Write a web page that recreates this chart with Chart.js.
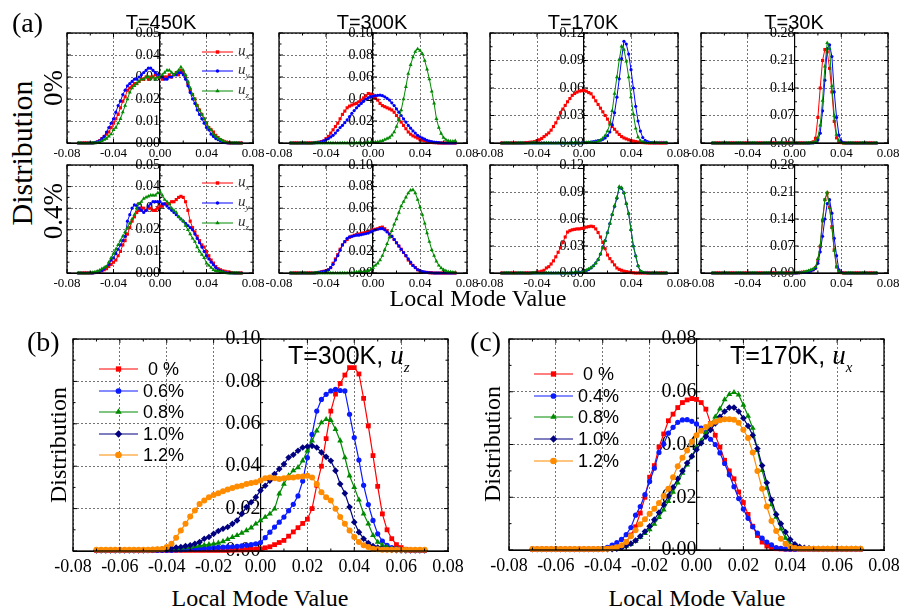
<!DOCTYPE html>
<html lang="en">
<head>
<meta charset="UTF-8">
<title>Local mode distributions</title>
<script src="https://cdn.jsdelivr.net/npm/chart.js"></script>
<style>
  body { margin: 0; background: #fff; }
  #page { position: relative; width: 899px; height: 610px; overflow: hidden; background: #fff; }
  #page canvas { position: absolute; }
  .txt { position: absolute; white-space: pre; line-height: 1; color: #000; }
  .serif { font-family: 'Liberation Serif', 'Times New Roman', serif; }
  .sans { font-family: 'Liberation Sans', Arial, sans-serif; }
  .mid { transform: translateX(-50%); }
  .rot { transform: translate(-50%, -50%) rotate(-90deg); }
  .u { font-family: 'Liberation Serif', serif; font-style: italic; }
  .sub { font-family: 'Liberation Serif', serif; font-style: italic; position: relative; }
</style>
</head>
<body>
<div id="page"></div>
<script>
// local mode value grid, shared by every curve
const xValues = [
  -0.070,-0.068,-0.066,-0.064,-0.062,-0.060,-0.058,-0.056,-0.054,-0.052,
  -0.050,-0.048,-0.046,-0.044,-0.042,-0.040,-0.038,-0.036,-0.034,-0.032,
  -0.030,-0.028,-0.026,-0.024,-0.022,-0.020,-0.018,-0.016,-0.014,-0.012,
  -0.010,-0.008,-0.006,-0.004,-0.002,0.000,0.002,0.004,0.006,0.008,
  0.010,0.012,0.014,0.016,0.018,0.020,0.022,0.024,0.026,0.028,
  0.030,0.032,0.034,0.036,0.038,0.040,0.042,0.044,0.046,0.048,
  0.050,0.052,0.054,0.056,0.058,0.060,0.062,0.064,0.066,0.068,0.070
];

// (a) 0% strain
const ux450_0 = [
  0,0,0,0,0,0,0,0.0002,0.0005,0.001,
  0.002,0.003,0.004,0.005,0.007,0.009,0.011,0.013,0.016,0.019,
  0.021,0.024,0.025,0.026,0.027,0.027,0.028,0.029,0.029,0.030,
  0.029,0.030,0.030,0.031,0.030,0.030,0.029,0.030,0.030,0.031,
  0.030,0.031,0.032,0.031,0.033,0.032,0.030,0.027,0.024,0.022,
  0.020,0.017,0.015,0.013,0.011,0.009,0.007,0.006,0.005,0.0035,
  0.0025,0.0015,0.001,0.0005,0.0002,0,0,0,0,0,0
];
const uy450_0 = [
  0,0,0,0,0,0,0,0.0002,0.0005,0.001,
  0.002,0.003,0.005,0.007,0.009,0.011,0.014,0.017,0.019,0.022,
  0.024,0.026,0.027,0.028,0.029,0.029,0.030,0.031,0.032,0.033,
  0.034,0.034,0.033,0.032,0.031,0.030,0.030,0.029,0.029,0.030,
  0.030,0.031,0.031,0.032,0.032,0.031,0.029,0.026,0.023,0.020,
  0.018,0.015,0.013,0.011,0.009,0.007,0.006,0.004,0.003,0.002,
  0.0015,0.001,0.0005,0.0002,0,0,0,0,0,0,0
];
const uz450_0 = [
  0,0,0,0,0,0,0,0,0.0002,0.0005,
  0.001,0.0015,0.002,0.003,0.004,0.006,0.007,0.009,0.011,0.014,
  0.017,0.020,0.023,0.025,0.026,0.027,0.028,0.029,0.029,0.030,
  0.030,0.029,0.030,0.029,0.030,0.030,0.031,0.032,0.033,0.033,
  0.032,0.031,0.032,0.033,0.0345,0.033,0.031,0.028,0.025,0.022,
  0.020,0.017,0.015,0.013,0.011,0.009,0.007,0.006,0.004,0.003,
  0.002,0.0015,0.001,0.0005,0.0003,0.0002,0,0,0,0,0
];
const ux300_0 = [
  0,0,0,0,0,0,0,0,0,0,
  0.0003,0.0005,0.0008,0.0012,0.0018,0.004,0.006,0.009,0.012,0.015,
  0.018,0.022,0.026,0.029,0.032,0.0335,0.0345,0.0355,0.036,0.0375,
  0.039,0.041,0.043,0.045,0.0445,0.0435,0.041,0.039,0.036,0.034,
  0.033,0.032,0.031,0.030,0.028,0.025,0.022,0.019,0.016,0.013,
  0.010,0.008,0.0065,0.0055,0.0045,0.003,0.0025,0.002,0.0015,0.001,
  0.0005,0.0003,0.0002,0,0,0,0,0,0,0,0
];
const uy300_0 = [
  0,0,0,0,0,0,0,0,0,0,
  0.0002,0.0003,0.0005,0.001,0.002,0.003,0.004,0.0055,0.007,0.009,
  0.0115,0.014,0.016,0.0185,0.021,0.024,0.027,0.0295,0.032,0.034,
  0.036,0.038,0.040,0.041,0.042,0.0425,0.043,0.0433,0.0435,0.043,
  0.042,0.0405,0.039,0.0365,0.034,0.031,0.028,0.025,0.022,0.019,
  0.016,0.0135,0.011,0.009,0.007,0.0057,0.0045,0.0035,0.0025,0.0018,
  0.0012,0.0008,0.0005,0.0003,0.0002,0,0,0,0,0,0
];
const uz300_0 = [
  0,0,0,0,0,0,0,0,0,0,
  0,0,0,0,0,0,0,0,0,0,
  0,0,0,0,0,0,0,0,0,0,
  0,0,0.0002,0.0003,0.0004,0.0005,0.0008,0.001,0.0015,0.002,
  0.003,0.004,0.005,0.007,0.010,0.015,0.021,0.030,0.040,0.051,
  0.063,0.071,0.078,0.083,0.0855,0.084,0.081,0.075,0.067,0.058,
  0.047,0.036,0.022,0.014,0.0085,0.005,0.003,0.002,0.0015,0.0015,0.002
];
const ux170_0 = [
  0,0,0,0,0,0,0,0,0,0,
  0.0003,0.0005,0.0008,0.001,0.0015,0.0026,0.0035,0.005,0.007,0.009,
  0.011,0.014,0.018,0.022,0.027,0.033,0.037,0.041,0.045,0.0485,
  0.052,0.054,0.0555,0.0567,0.057,0.0574,0.0565,0.055,0.0537,0.050,
  0.046,0.042,0.038,0.034,0.030,0.026,0.022,0.018,0.015,0.012,
  0.0093,0.007,0.0055,0.0045,0.0035,0.0026,0.002,0.0015,0.001,0.0007,
  0.0005,0.0003,0.0002,0,0,0,0,0,0,0,0
];
const uy170_0 = [
  0,0,0,0,0,0,0,0,0,0,
  0,0,0,0,0,0,0,0,0,0,
  0,0,0,0,0,0,0,0,0,0,
  0,0,0,0,0.0002,0.0003,0.0005,0.0008,0.001,0.0015,
  0.002,0.0025,0.003,0.004,0.0055,0.008,0.012,0.020,0.033,0.050,
  0.070,0.092,0.111,0.108,0.097,0.080,0.060,0.040,0.024,0.013,
  0.006,0.003,0.0015,0.0008,0.0005,0.0003,0.0003,0.0003,0.0003,0.0003,0.0003
];
const uz170_0 = [
  0,0,0,0,0,0,0,0,0,0,
  0,0,0,0,0,0,0,0,0,0,
  0,0,0,0,0,0,0,0,0,0,
  0,0,0,0,0.0002,0.0003,0.0004,0.0005,0.0007,0.0009,
  0.001,0.002,0.003,0.005,0.008,0.013,0.0204,0.035,0.054,0.072,
  0.091,0.1055,0.102,0.089,0.072,0.050,0.0315,0.016,0.0065,0.0025,
  0.001,0.0005,0.0003,0.0003,0.0003,0.0003,0.0003,0.0003,0.0003,0.0003,0.0003
];
const ux30_0 = [
  0,0,0,0,0,0,0,0,0,0,
  0,0,0,0,0,0,0,0,0,0,
  0,0,0,0,0,0,0,0,0,0,
  0,0,0,0,0,0,0,0,0,0,
  0,0,0.001,0.003,0.012,0.065,0.14,0.21,0.238,0.232,
  0.19,0.13,0.055,0.013,0.004,0.001,0,0,0,0,
  0,0,0,0,0,0,0,0,0,0,0
];
const uy30_0 = [
  0,0,0,0,0,0,0,0,0,0,
  0,0,0,0,0,0,0,0,0,0,
  0,0,0,0,0,0,0,0,0,0,
  0,0,0,0,0,0,0,0,0,0,
  0,0,0,0,0.002,0.008,0.025,0.082,0.16,0.24,
  0.25,0.22,0.13,0.065,0.02,0.004,0.001,0,0,0,
  0,0,0,0,0,0,0,0,0,0,0
];
const uz30_0 = [
  0,0,0,0,0,0,0,0,0,0,
  0,0,0,0,0,0,0,0,0,0,
  0,0,0,0,0,0,0,0,0,0,
  0,0,0,0,0,0,0,0,0,0,
  0,0,0,0.001,0.004,0.014,0.045,0.108,0.195,0.255,
  0.24,0.145,0.07,0.0215,0.006,0.0015,0,0,0,0,
  0,0,0,0,0,0,0,0,0,0,0
];

// (a) 0.4% strain
const ux450_4 = [
  0,0,0,0,0,0,0,0.0002,0.0004,0.0007,
  0.001,0.0015,0.002,0.003,0.004,0.005,0.006,0.008,0.010,0.013,
  0.015,0.018,0.021,0.024,0.026,0.028,0.029,0.030,0.030,0.029,
  0.030,0.030,0.029,0.029,0.030,0.031,0.031,0.032,0.032,0.032,
  0.033,0.033,0.034,0.035,0.0355,0.035,0.033,0.029,0.024,0.021,
  0.019,0.017,0.015,0.013,0.012,0.010,0.008,0.006,0.0046,0.003,
  0.002,0.0015,0.001,0.0008,0.0005,0.0003,0.0002,0,0,0,0
];
const uy450_4 = [
  0,0,0,0,0,0,0,0.0002,0.0004,0.0008,
  0.0012,0.002,0.003,0.004,0.006,0.007,0.009,0.011,0.013,0.015,
  0.017,0.024,0.027,0.030,0.0315,0.031,0.030,0.029,0.028,0.029,
  0.031,0.032,0.033,0.033,0.033,0.033,0.032,0.032,0.031,0.030,
  0.029,0.028,0.027,0.026,0.025,0.024,0.023,0.022,0.021,0.020,
  0.018,0.016,0.014,0.012,0.010,0.008,0.0065,0.005,0.0038,0.0025,
  0.0015,0.001,0.0006,0.0003,0.0002,0,0,0,0,0,0
];
const uz450_4 = [
  0,0,0,0,0,0,0.0002,0.0004,0.0008,0.0012,
  0.002,0.0025,0.003,0.005,0.007,0.009,0.011,0.013,0.015,0.017,
  0.019,0.021,0.023,0.025,0.027,0.030,0.032,0.033,0.0345,0.035,
  0.0355,0.036,0.036,0.036,0.037,0.0377,0.036,0.034,0.033,0.032,
  0.030,0.029,0.028,0.026,0.025,0.024,0.022,0.020,0.018,0.016,
  0.0145,0.012,0.010,0.0085,0.007,0.0045,0.0035,0.0025,0.0015,0.001,
  0.0008,0.0005,0.0003,0.0002,0,0,0,0,0,0,0
];
const ux300_4 = [
  0,0,0,0,0,0,0,0,0,0,
  0,0.0003,0.0006,0.001,0.0015,0.002,0.003,0.005,0.009,0.013,
  0.017,0.022,0.026,0.029,0.031,0.033,0.034,0.035,0.0355,0.036,
  0.0365,0.037,0.0375,0.038,0.039,0.040,0.0405,0.041,0.042,0.0425,
  0.041,0.039,0.036,0.034,0.031,0.028,0.025,0.022,0.019,0.016,
  0.012,0.009,0.007,0.005,0.003,0.002,0.0012,0.0008,0.0005,0.0003,
  0.0002,0,0,0,0,0,0,0,0,0,0
];
const uy300_4 = [
  0,0,0,0,0,0,0,0,0,0,
  0,0.0003,0.0006,0.001,0.0015,0.002,0.003,0.005,0.008,0.012,
  0.016,0.021,0.026,0.029,0.032,0.0335,0.034,0.0345,0.035,0.035,
  0.0355,0.036,0.0365,0.037,0.038,0.039,0.040,0.0405,0.041,0.041,
  0.040,0.038,0.036,0.034,0.031,0.028,0.025,0.022,0.019,0.016,
  0.013,0.010,0.007,0.005,0.003,0.002,0.0012,0.0008,0.0005,0.0003,
  0.0002,0,0,0,0,0,0,0,0,0,0
];
const uz300_4 = [
  0,0,0,0,0,0,0,0,0,0,
  0,0,0,0,0,0,0,0,0,0,
  0,0,0,0,0,0.0002,0.0003,0.0005,0.0008,0.001,
  0.001,0.0013,0.0016,0.002,0.003,0.005,0.007,0.009,0.012,0.016,
  0.0215,0.027,0.033,0.039,0.045,0.050,0.056,0.062,0.066,0.070,
  0.074,0.0765,0.077,0.074,0.068,0.061,0.054,0.046,0.037,0.029,
  0.0215,0.016,0.0108,0.007,0.0045,0.003,0.002,0.0012,0.0008,0.0006,0.0006
];
const ux170_4 = [
  0,0,0,0,0,0,0,0,0,0,
  0,0,0,0.0003,0.0005,0.0008,0.0012,0.002,0.003,0.0056,
  0.007,0.010,0.0135,0.018,0.023,0.028,0.034,0.040,0.0455,0.047,
  0.048,0.0485,0.049,0.049,0.0495,0.050,0.051,0.0515,0.052,0.0515,
  0.049,0.045,0.040,0.034,0.027,0.020,0.016,0.0125,0.009,0.0056,
  0.004,0.003,0.002,0.0015,0.001,0.0005,0.0003,0,0,0,
  0,0,0,0,0,0,0,0,0,0,0
];
const uy170_4 = [
  0,0,0,0,0,0,0,0,0,0,
  0,0,0,0,0,0,0,0,0,0,
  0,0,0,0,0,0,0,0,0,0,
  0,0.0002,0.0004,0.0006,0.001,0.0019,0.003,0.004,0.0056,0.008,
  0.011,0.0148,0.021,0.029,0.036,0.045,0.055,0.065,0.074,0.083,
  0.095,0.094,0.089,0.077,0.066,0.048,0.030,0.019,0.008,0.002,
  0.0007,0.0003,0.0002,0,0,0,0,0,0,0,0
];
const uz170_4 = [
  0,0,0,0,0,0,0,0,0,0,
  0,0,0,0,0,0,0,0,0,0,
  0,0,0,0,0,0,0,0,0,0,
  0,0.0002,0.0004,0.0006,0.001,0.002,0.003,0.0045,0.006,0.008,
  0.011,0.015,0.021,0.028,0.036,0.045,0.055,0.065,0.075,0.084,
  0.096,0.095,0.089,0.077,0.066,0.048,0.030,0.019,0.008,0.002,
  0.0007,0.0003,0.0002,0,0,0,0,0,0,0,0
];
const ux30_4 = [
  0,0,0,0,0,0,0,0,0,0,
  0,0,0,0,0,0,0,0,0,0,
  0,0,0,0,0,0,0,0,0,0,
  0,0,0,0,0,0,0.0005,0.001,0.0015,0.002,
  0.003,0.004,0.006,0.009,0.014,0.033,0.068,0.135,0.19,0.207,
  0.17,0.12,0.06,0.016,0.004,0.001,0,0,0,0,
  0,0,0,0,0,0,0,0,0,0,0
];
const uy30_4 = [
  0,0,0,0,0,0,0,0,0,0,
  0,0,0,0,0,0,0,0,0,0,
  0,0,0,0,0,0,0,0,0,0,
  0,0,0,0,0,0,0,0.0005,0.001,0.0015,
  0.002,0.003,0.005,0.008,0.012,0.025,0.055,0.095,0.14,0.18,
  0.19,0.155,0.09,0.045,0.008,0.002,0,0,0,0,
  0,0,0,0,0,0,0,0,0,0,0
];
const uz30_4 = [
  0,0,0,0,0,0,0,0,0,0,
  0,0,0,0,0,0,0,0,0,0,
  0,0,0,0,0,0,0,0,0,0,
  0,0,0,0,0,0,0.0005,0.001,0.002,0.003,
  0.004,0.006,0.008,0.011,0.016,0.037,0.072,0.14,0.19,0.209,
  0.168,0.118,0.058,0.015,0.004,0.001,0,0,0,0,
  0,0,0,0,0,0,0,0,0,0,0
];

// (b) T=300K, u_z for several strains
const uzB_00 = [
  0.0003,0.0003,0.0003,0.0003,0.0003,0.0003,0.0003,0.0003,0.0003,0.0003,
  0.0003,0.0003,0.0003,0.0003,0.0003,0.0003,0.0003,0.0003,0.0003,0.0003,
  0.0003,0.0003,0.0003,0.0003,0.0003,0.0003,0.0003,0.0003,0.0003,0.0004,
  0.0005,0.0005,0.0006,0.0008,0.0009,0.001,0.0015,0.002,0.003,0.004,
  0.005,0.007,0.009,0.011,0.013,0.015,0.020,0.031,0.040,0.053,
  0.066,0.074,0.079,0.083,0.0865,0.0865,0.0835,0.072,0.059,0.045,
  0.0305,0.0175,0.010,0.0058,0.003,0.0016,0.0008,0.0004,0.0003,0.0003,0.0003
];
const uzB_06 = [
  0.0003,0.0003,0.0003,0.0003,0.0003,0.0003,0.0003,0.0003,0.0003,0.0003,
  0.0003,0.0003,0.0003,0.0003,0.0003,0.0003,0.0003,0.0005,0.0006,0.0008,
  0.001,0.0011,0.0012,0.0013,0.0014,0.0016,0.0017,0.0018,0.0019,0.002,
  0.0022,0.0024,0.0027,0.003,0.0034,0.004,0.0063,0.0089,0.0113,0.0136,
  0.016,0.019,0.022,0.026,0.033,0.044,0.055,0.066,0.0715,0.0739,
  0.0755,0.0762,0.0757,0.0755,0.0645,0.0535,0.0429,0.031,0.0219,0.0144,
  0.0081,0.0047,0.0027,0.0016,0.001,0.0006,0.0004,0.0003,0.0003,0.0003,0.0003
];
const uzB_08 = [
  0.0003,0.0003,0.0003,0.0003,0.0003,0.0003,0.0003,0.0003,0.0003,0.0003,
  0.0003,0.0003,0.0004,0.0005,0.0006,0.0008,0.001,0.0012,0.0014,0.0016,
  0.0019,0.0022,0.0025,0.0028,0.0031,0.0034,0.0038,0.0045,0.0055,0.0065,
  0.0074,0.0085,0.0097,0.011,0.0128,0.0144,0.016,0.0175,0.0199,0.027,
  0.0316,0.0355,0.0379,0.0394,0.0426,0.0473,0.052,0.0567,0.0606,0.0621,
  0.0617,0.0574,0.052,0.0441,0.0355,0.030,0.0241,0.0175,0.0128,0.0074,
  0.0042,0.0027,0.0019,0.0012,0.0008,0.0005,0.0003,0.0003,0.0003,0.0003,0.0003
];
const uzB_10 = [
  0.0003,0.0003,0.0003,0.0003,0.0003,0.0003,0.0003,0.0003,0.0003,0.0003,
  0.0003,0.0004,0.0005,0.0006,0.0008,0.001,0.0013,0.0016,0.0019,0.0023,
  0.0027,0.0034,0.0042,0.0058,0.0066,0.0081,0.0094,0.0105,0.0113,0.0128,
  0.0144,0.0175,0.0207,0.023,0.0254,0.0285,0.0308,0.0332,0.0363,0.0387,
  0.041,0.0441,0.0454,0.0473,0.0488,0.0493,0.0496,0.0488,0.0465,0.0444,
  0.0426,0.0379,0.0316,0.0272,0.0207,0.0136,0.0089,0.0058,0.0038,0.0023,
  0.0016,0.001,0.0007,0.0005,0.0004,0.0003,0.0003,0.0003,0.0003,0.0003,0.0003
];
const uzB_12 = [
  0.0006,0.0006,0.0006,0.0006,0.0006,0.0006,0.0006,0.0006,0.0006,0.0006,
  0.0006,0.0006,0.0007,0.0008,0.001,0.0019,0.0034,0.0063,0.0097,0.0128,
  0.0163,0.0191,0.0222,0.0238,0.0254,0.0264,0.0272,0.0282,0.029,0.0297,
  0.0304,0.0308,0.0316,0.0321,0.0324,0.0332,0.0343,0.0347,0.0343,0.034,
  0.0343,0.0347,0.0347,0.035,0.0352,0.0355,0.0347,0.0316,0.0277,0.0254,
  0.0238,0.0199,0.016,0.0128,0.0097,0.0066,0.0042,0.0027,0.0019,0.0011,
  0.0008,0.0006,0.0006,0.0006,0.0006,0.0006,0.0006,0.0006,0.0006,0.0006,0.0006
];

// (c) T=170K, u_x for several strains
const uxC_00 = [
  0.0003,0.0003,0.0003,0.0003,0.0003,0.0003,0.0003,0.0003,0.0003,0.0003,
  0.0003,0.0003,0.0003,0.0003,0.0003,0.0004,0.0005,0.0006,0.001,0.0017,
  0.0031,0.0057,0.0088,0.014,0.020,0.0276,0.032,0.039,0.044,0.049,
  0.0515,0.054,0.0559,0.0569,0.0574,0.0571,0.0559,0.0534,0.048,0.0435,
  0.039,0.034,0.030,0.027,0.022,0.018,0.0135,0.009,0.0055,0.003,
  0.0015,0.0008,0.0005,0.0004,0.0003,0.0003,0.0003,0.0003,0.0003,0.0003,
  0.0003,0.0003,0.0003,0.0003,0.0003,0.0003,0.0003,0.0003,0.0003,0.0003,0.0003
];
const uxC_04 = [
  0.0003,0.0003,0.0003,0.0003,0.0003,0.0003,0.0003,0.0003,0.0003,0.0003,
  0.0003,0.0003,0.0003,0.0003,0.0003,0.0005,0.001,0.0019,0.0028,0.004,
  0.0058,0.0085,0.0132,0.0165,0.021,0.026,0.031,0.037,0.0402,0.0443,
  0.0465,0.0484,0.0493,0.0494,0.0488,0.0478,0.0462,0.0445,0.042,0.040,
  0.0368,0.0328,0.0285,0.024,0.0195,0.0155,0.012,0.0088,0.0064,0.0045,
  0.003,0.002,0.0009,0.0006,0.0004,0.0003,0.0003,0.0003,0.0003,0.0003,
  0.0003,0.0003,0.0003,0.0003,0.0003,0.0003,0.0003,0.0003,0.0003,0.0003,0.0003
];
const uxC_08 = [
  0.0003,0.0003,0.0003,0.0003,0.0003,0.0003,0.0003,0.0003,0.0003,0.0003,
  0.0003,0.0003,0.0003,0.0003,0.0003,0.0003,0.0003,0.0004,0.0005,0.001,
  0.0015,0.0022,0.0033,0.0048,0.0063,0.0078,0.0098,0.0124,0.0152,0.0185,
  0.022,0.0255,0.0292,0.0323,0.0356,0.039,0.0415,0.0445,0.0475,0.0505,
  0.0535,0.057,0.059,0.0598,0.0588,0.055,0.0508,0.0462,0.0378,0.0302,
  0.0235,0.0172,0.0125,0.008,0.0045,0.0022,0.0012,0.0007,0.0004,0.0004,
  0.0004,0.0004,0.0004,0.0004,0.0004,0.0004,0.0004,0.0004,0.0004,0.0004,0.0004
];
const uxC_10 = [
  0.0003,0.0003,0.0003,0.0003,0.0003,0.0003,0.0003,0.0003,0.0003,0.0003,
  0.0003,0.0003,0.0003,0.0003,0.0003,0.0003,0.0003,0.0003,0.0005,0.0009,
  0.0016,0.0024,0.0036,0.0052,0.007,0.009,0.0115,0.0142,0.0172,0.0205,
  0.0238,0.027,0.030,0.033,0.0355,0.038,0.0405,0.043,0.0455,0.048,
  0.0505,0.0525,0.054,0.054,0.0525,0.050,0.047,0.0435,0.0385,0.032,
  0.0255,0.019,0.0135,0.010,0.0068,0.004,0.0022,0.0012,0.0008,0.0006,
  0.0004,0.0004,0.0004,0.0004,0.0004,0.0004,0.0004,0.0004,0.0004,0.0004,0.0004
];
const uxC_12 = [
  0.0004,0.0004,0.0004,0.0004,0.0004,0.0004,0.0004,0.0004,0.0004,0.0004,
  0.0004,0.0004,0.0004,0.0004,0.0004,0.0004,0.0005,0.0007,0.001,0.0018,
  0.003,0.0052,0.0075,0.0098,0.0117,0.0137,0.0156,0.0178,0.0205,0.0232,
  0.0276,0.0318,0.035,0.0377,0.041,0.0435,0.0452,0.0466,0.0478,0.0486,
  0.0492,0.0496,0.0496,0.0494,0.0482,0.0456,0.0425,0.037,0.030,0.0232,
  0.0165,0.011,0.0072,0.0043,0.0024,0.0012,0.0008,0.0005,0.0005,0.0005,
  0.0005,0.0005,0.0005,0.0005,0.0005,0.0005,0.0005,0.0005,0.0005,0.0005,0.0005
];

const temps = ['T=450K', 'T=300K', 'T=170K', 'T=30K'];
const strains = ['0%', '0.4%'];
const yMaxSmall = [0.05, 0.10, 0.12, 0.28];
const yStepSmall = [0.01, 0.02, 0.03, 0.07];
const modeNames = ['x', 'y', 'z'];
const legendB = ['0 %', '0.6%', '0.8%', '1.0%', '1.2%'];
const legendC = ['0 %', '0.4%', '0.8%', '1.0%', '1.2%'];

const page = document.getElementById('page');
const RED = '#ff0000', BLUE = '#0000ff', GREEN = '#008a00', NAVY = '#000080', ORANGE = '#ff8c00';
const GRID = 'rgba(0,0,0,0.55)';
const SERIF = "'Liberation Serif', 'Times New Roman', serif";

function marker(ctx, style, x, y, r) {
  ctx.beginPath();
  if (style === 'rect') {
    const s = r * Math.SQRT1_2;
    ctx.rect(x - s, y - s, 2 * s, 2 * s);
  } else if (style === 'triangle') {
    for (let k = 0; k < 3; k++) {
      const a = k * 2 * Math.PI / 3;
      const px = x + Math.sin(a) * r, py = y - Math.cos(a) * r;
      if (k) ctx.lineTo(px, py); else ctx.moveTo(px, py);
    }
    ctx.closePath();
  } else if (style === 'rectRot') {
    ctx.moveTo(x, y - r); ctx.lineTo(x + r, y); ctx.lineTo(x, y + r); ctx.lineTo(x - r, y);
    ctx.closePath();
  } else {
    ctx.arc(x, y, r, 0, Math.PI * 2);
  }
  ctx.fill();
}

// box round the plot, small inward ticks, and the legend line samples
function framePlugin(p) {
  return {
    id: 'frame',
    afterDraw(chart) {
      const { ctx, chartArea: a, scales: { x, y } } = chart;
      ctx.save();
      ctx.strokeStyle = '#000';
      ctx.lineWidth = 1;
      ctx.beginPath();
      const x0 = x.getPixelForValue(0);
      const nY = Math.round(p.yMax / p.yStep) * 2;
      for (let k = 0; k <= nY; k++) {
        const py = y.getPixelForValue(k * p.yStep / 2);
        const len = k % 2 ? 2.5 : 4;
        ctx.moveTo(a.left, py); ctx.lineTo(a.left + len, py);
        ctx.moveTo(a.right, py); ctx.lineTo(a.right - len, py);
        ctx.moveTo(x0, py); ctx.lineTo(x0 + len, py);
      }
      const nX = Math.round(0.16 / p.xStep) * 2;
      for (let k = 0; k <= nX; k++) {
        const px = x.getPixelForValue(-0.08 + k * p.xStep / 2);
        const len = k % 2 ? 2.5 : 4;
        ctx.moveTo(px, a.top); ctx.lineTo(px, a.top + len);
        ctx.moveTo(px, a.bottom); ctx.lineTo(px, a.bottom - len);
      }
      ctx.stroke();
      ctx.lineWidth = 1.3;
      ctx.strokeRect(a.left, a.top, a.right - a.left, a.bottom - a.top);
      if (p.legend) {
        p.series.forEach((s, i) => {
          const ly = p.legend.ys[i] - p.oy;
          const lx1 = p.legend.x1 - p.ox, lx2 = p.legend.x2 - p.ox;
          ctx.strokeStyle = s.color; ctx.fillStyle = s.color; ctx.lineWidth = p.lineWidth;
          ctx.beginPath(); ctx.moveTo(lx1, ly); ctx.lineTo(lx2, ly); ctx.stroke();
          marker(ctx, s.marker, (lx1 + lx2) / 2, ly, s.radius * 1.1);
        });
      }
      ctx.restore();
    }
  };
}

function makePanel(p) {
  const PL = 24, PR = 24, PT = 12, XH = p.big ? 26 : 20;
  p.ox = p.l - PL; p.oy = p.t - PT;
  const w = p.r - p.l + PL + PR, h = p.b - p.t + PT + XH;
  const cv = document.createElement('canvas');
  cv.width = w; cv.height = h;
  cv.style.left = p.ox + 'px'; cv.style.top = p.oy + 'px';
  cv.style.width = w + 'px'; cv.style.height = h + 'px';
  page.appendChild(cv);
  const fmt = v => Math.abs(v) < 1e-9 ? '0.00' : v.toFixed(2);
  new Chart(cv, {
    type: 'scatter',
    data: {
      datasets: p.series.map((s, i) => ({
        data: xValues.map((x, k) => ({ x: x, y: s.values[k] })),
        showLine: true,
        borderColor: s.color,
        backgroundColor: s.color,
        borderWidth: p.lineWidth,
        pointStyle: s.marker,
        pointRadius: s.radius,
        pointBorderWidth: 0,
        clip: 6,
        order: p.series.length - i
      }))
    },
    options: {
      responsive: false,
      animation: false,
      devicePixelRatio: 1,
      layout: { padding: { left: PL, right: PR, top: PT, bottom: 0 } },
      plugins: { legend: { display: false }, tooltip: { enabled: false } },
      scales: {
        x: {
          type: 'linear', position: 'bottom', min: -0.08, max: 0.08,
          afterFit: s => { s.height = XH; },
          ticks: {
            stepSize: p.xStep, callback: fmt, color: '#000', padding: p.big ? 5 : 3,
            maxRotation: 0, autoSkip: false,
            font: { family: SERIF, size: p.big ? 18 : 13 }
          },
          grid: { color: GRID, drawTicks: false },
          border: { color: '#000', width: 1, dash: [2, 2] }
        },
        y: {
          type: 'linear', position: { x: 0 }, min: 0, max: p.yMax,
          ticks: {
            stepSize: p.yStep, callback: fmt, color: '#000', padding: 1,
            font: { family: SERIF, size: p.big ? 20 : 14 }
          },
          grid: { color: GRID, drawTicks: false },
          border: { color: '#000', width: 1.2, dash: [2, 2] }
        }
      }
    },
    plugins: [framePlugin(p)]
  });
}

function addText(html, cls, left, top, size, color) {
  const d = document.createElement('div');
  d.className = 'txt ' + cls;
  d.innerHTML = html;
  d.style.left = left + 'px';
  d.style.top = top + 'px';
  d.style.fontSize = size + 'px';
  if (color) d.style.color = color;
  page.appendChild(d);
  return d;
}

// (a) grid of small panels
const smallCols = [[67, 253], [279, 467], [490, 678], [701, 888]];
const smallRows = [[33, 143], [165, 273]];
const smallData = [
  [[ux450_0, uy450_0, uz450_0], [ux300_0, uy300_0, uz300_0], [ux170_0, uy170_0, uz170_0], [ux30_0, uy30_0, uz30_0]],
  [[ux450_4, uy450_4, uz450_4], [ux300_4, uy300_4, uz300_4], [ux170_4, uy170_4, uz170_4], [ux30_4, uy30_4, uz30_4]]
];
const smallStyle = [
  { color: RED, marker: 'rect', radius: 2.2 },
  { color: BLUE, marker: 'circle', radius: 1.6 },
  { color: GREEN, marker: 'triangle', radius: 2.3 }
];
const smallLegendY = [[52, 71, 91], [183, 203, 223]];

smallRows.forEach((row, ri) => {
  smallCols.forEach((col, ci) => {
    makePanel({
      l: col[0], r: col[1], t: row[0], b: row[1],
      yMax: yMaxSmall[ci], yStep: yStepSmall[ci], xStep: 0.04, lineWidth: 1,
      series: smallData[ri][ci].map((v, k) => Object.assign({ values: v }, smallStyle[k])),
      legend: ci === 0 ? { x1: 202, x2: 233, ys: smallLegendY[ri] } : null
    });
  });
  smallLegendY[ri].forEach((cy, k) => {
    addText('<span class="u">u</span><span class="sub" style="font-size:9px;top:4px">' + modeNames[k] + '</span>',
      'serif', 238, cy - 9, 15, '#333');
  });
});

// (b) and (c)
const bigStyle = [
  { color: RED, marker: 'rect', radius: 3.4 },
  { color: '#0a1aff', marker: 'circle', radius: 2.6 },
  { color: GREEN, marker: 'triangle', radius: 3.4 },
  { color: NAVY, marker: 'rectRot', radius: 3.3 },
  { color: ORANGE, marker: 'circle', radius: 3.0 }
];
const bData = [uzB_00, uzB_06, uzB_08, uzB_10, uzB_12];
const cData = [uxC_00, uxC_04, uxC_08, uxC_10, uxC_12];
const bLegendY = [369, 391, 412, 434, 455];
const cLegendY = [374, 396, 417, 439, 461];

makePanel({
  l: 73, r: 448, t: 338, b: 551, big: true,
  yMax: 0.10, yStep: 0.02, xStep: 0.02, lineWidth: 1.2,
  series: bData.map((v, k) => Object.assign({ values: v }, bigStyle[k])),
  legend: { x1: 99, x2: 138, ys: bLegendY }
});
makePanel({
  l: 509, r: 884, t: 338, b: 550, big: true,
  yMax: 0.08, yStep: 0.02, xStep: 0.02, lineWidth: 1.2,
  series: cData.map((v, k) => Object.assign({ values: v }, bigStyle[k])),
  legend: { x1: 534, x2: 573, ys: cLegendY }
});

legendB.forEach((t, k) => addText(t, 'sans', k === 0 ? 148 : 143, bLegendY[k] - 9, 18));
legendC.forEach((t, k) => addText(t, 'sans', k === 0 ? 583 : 578, cLegendY[k] - 9, 18));

// labels
addText('(a)', 'serif', 12, 9, 28);
const titleX = [161, 372, 583, 794];
temps.forEach((t, k) => addText(t, 'sans mid', titleX[k], 12, 20));
addText('Distribution', 'serif rot', 22, 153, 30);
addText(strains[0], 'serif rot', 53, 88, 27);
addText(strains[1], 'serif rot', 53, 211, 27);
addText('Local Mode Value', 'serif mid', 478, 286, 24);

addText('(b)', 'serif', 27, 328, 28);
addText('(c)', 'serif', 470, 328, 28);
addText('Distribution', 'serif rot', 58, 445, 24);
addText('Distribution', 'serif rot', 492, 444, 24);
addText('Local Mode Value', 'serif mid', 260, 586, 24);
addText('Local Mode Value', 'serif mid', 697, 586, 24);
addText('T=300K, <span class="u" style="font-size:27px">u</span><span class="sub" style="font-size:15px;top:8px">z</span>',
  'sans', 288, 342, 25);
addText('T=170K, <span class="u" style="font-size:27px">u</span><span class="sub" style="font-size:15px;top:8px">x</span>',
  'sans', 730, 342, 25);
</script>
</body>
</html>
